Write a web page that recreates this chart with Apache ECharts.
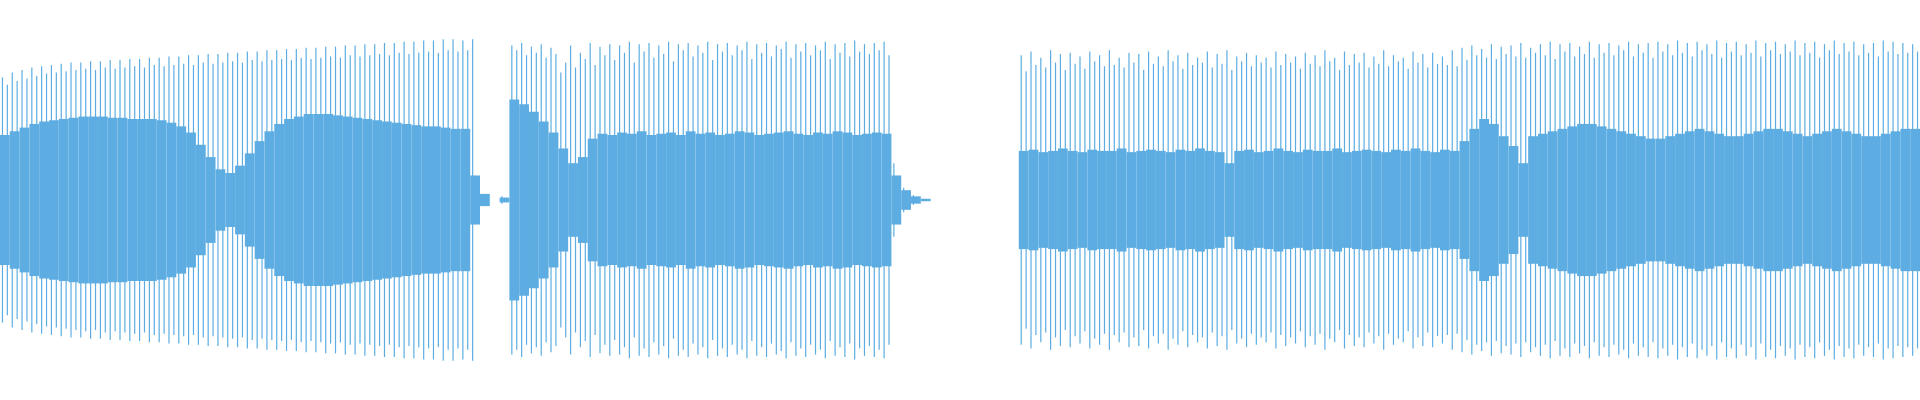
<!DOCTYPE html>
<html>
<head>
<meta charset="UTF-8">
<style>
  html, body { margin: 0; padding: 0; background: #fff; }
  #chart { width: 1920px; height: 400px; }
</style>
</head>
<body>
<div id="chart"></div>
<script src="https://cdn.jsdelivr.net/npm/echarts@6/dist/echarts.min.js"></script>
<script>
// dense core of the waveform, half-height per column (196 columns)
const coreAmp = [
  53,56,59,62,64,65,66,67,68,68,68,67,67,66,66,66,65,63,60,55,
  45,35,25,22,28,38,48,56,62,66,68,70,70,70,69,68,67,66,65,64,
  63,62,61,60,60,59,58,58,20,
  5,0,2,
  82,78,72,64,55,42,30,35,50,54,
  53,55,54,56,53,54,55,53,56,54,55,53,54,56,55,53,54,55,56,54,53,55,54,56,55,53,54,55,54,
  20,8,3,1,
  0,0,0,0,0,0,0,0,0,
  40,41,39,40,42,40,39,41,40,40,42,39,40,41,40,39,41,40,42,40,39,
  30,
  40,41,39,40,42,40,39,41,40,40,42,39,40,41,40,39,41,40,42,40,39,41,40,
  48,58,66,62,52,44,
  30,
  52,54,56,58,60,62,62,60,58,56,54,52,50,50,52,54,56,58,56,54,
  52,52,54,56,58,58,56,54,52,54,56,58,56,54,52,52,54,56,58,58
];

// outer peaks, half-height per thin line (392 lines)
const peakAmp = [
  100,94,104,97,106,99,108,101,109,103,
  110,104,111,105,112,106,112,107,113,106,
  113,108,114,107,114,108,115,109,115,108,
  116,110,116,109,117,110,117,111,118,110,
  118,112,119,111,119,112,120,113,120,112,
  121,114,121,113,122,114,122,115,123,114,
  123,116,124,115,124,116,125,117,125,116,
  126,118,126,117,127,118,127,119,128,118,
  128,120,129,119,129,120,130,121,130,120,
  131,122,131,121,130,122,131,
  10,4,1,0,0,3,0,
  126,122,128,118,125,120,127,116,124,119,
  104,112,126,108,120,115,128,110,125,118,
  127,114,126,120,129,112,127,121,128,116,
  126,119,129,113,127,122,128,117,126,120,
  129,114,127,121,128,118,126,122,129,115,
  127,120,128,117,126,123,129,116,127,121,
  128,118,126,122,129,115,127,120,128,117,
  130,121,127,119,128,122,129,118,
  30,18,10,6,4,2,1,0,
  0,0,0,0,0,0,0,0,0,0,0,0,0,0,0,0,0,0,
  118,105,121,110,116,108,122,112,119,106,
  120,111,117,107,121,113,118,109,122,110,
  116,108,120,112,119,106,121,111,117,109,
  122,113,118,107,120,110,116,112,121,108,
  119,111,122,106,117,113,120,109,118,112,
  116,108,121,110,119,112,117,107,120,111,
  118,109,122,113,116,106,121,110,119,112,
  120,108,117,111,122,109,118,113,116,107,
  121,112,119,108,120,111,117,110,122,109,
  124,114,126,118,123,116,127,115,125,119,
  126,117,128,116,124,120,127,118,129,115,
  127,121,128,117,125,119,129,116,127,120,
  128,118,126,122,129,117,127,120,128,116,
  129,121,127,118,130,120,128,117,129,122,
  127,119,130,116,128,121,129,118,127,120,
  130,117,128,122,129,119,127,121,130,118,
  128,120,129,116,127,122,130,119,128,121,
  129,118,127,120,128,117,130,121,129,119,
  128,120,127,121
];

const blue = '#5dade2';
const chart = echarts.init(document.getElementById('chart'));

chart.setOption({
  animation: false,
  grid: { left: 0, right: 0, top: 0, bottom: 0 },
  xAxis: [
    { type: 'category', data: coreAmp.map((_, i) => i), show: false },
    { type: 'category', data: peakAmp.map((_, i) => i), show: false }
  ],
  yAxis: { type: 'value', min: -163, max: 163, show: false },
  series: [
    { type: 'bar', xAxisIndex: 1, stack: 'peak', data: peakAmp, barWidth: 1.2,
      itemStyle: { color: blue } },
    { type: 'bar', xAxisIndex: 1, stack: 'peak', data: peakAmp.map(v => -v), barWidth: 1.2,
      itemStyle: { color: blue } },
    { type: 'bar', xAxisIndex: 0, stack: 'core', data: coreAmp, barCategoryGap: '0%',
      itemStyle: { color: blue } },
    { type: 'bar', xAxisIndex: 0, stack: 'core', data: coreAmp.map(v => -v), barCategoryGap: '0%',
      itemStyle: { color: blue } }
  ]
});
</script>
</body>
</html>
